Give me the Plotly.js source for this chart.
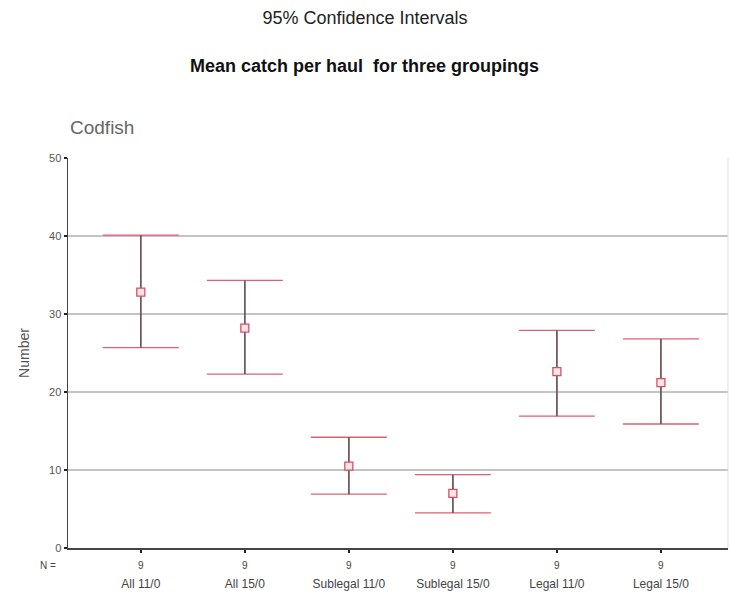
<!DOCTYPE html>
<html>
<head>
<meta charset="utf-8">
<script src="https://cdn.plot.ly/plotly-3.0.1.min.js"></script>
<style>html,body{margin:0;padding:0;background:#fff;}#chart{width:730px;height:596px;}</style>
</head>
<body>
<div id="chart"></div>
<script>
// Data
const categories = ["All 11/0", "All 15/0", "Sublegal 11/0", "Sublegal 15/0", "Legal 11/0", "Legal 15/0"];
const means = [32.8, 28.2, 10.5, 7.0, 22.6, 21.2];
const upper = [40.1, 34.3, 14.2, 9.4, 27.9, 26.8];
const lower = [25.7, 22.3, 6.9, 4.5, 16.9, 15.9];
const counts = ["9", "9", "9", "9", "9", "9"];
const yTicks = [0, 10, 20, 30, 40, 50];

const FONT = 'Liberation Sans, Arial, sans-serif';
const xIdx = categories.map((c, i) => i);
const errPlus = upper.map((u, i) => u - means[i]);
const errMinus = lower.map((l, i) => means[i] - l);

const capTrace = {
  x: xIdx, y: means, type: 'scatter', mode: 'markers',
  marker: {size: 0.1, color: 'rgba(0,0,0,0)'},
  error_y: {type: 'data', symmetric: false, array: errPlus, arrayminus: errMinus,
            color: '#e0606f', thickness: 1.3, width: 38},
  hoverinfo: 'skip', showlegend: false
};
const stemTrace = {
  x: xIdx, y: means, type: 'scatter', mode: 'markers',
  marker: {size: 0.1, color: 'rgba(0,0,0,0)'},
  error_y: {type: 'data', symmetric: false, array: errPlus, arrayminus: errMinus,
            color: '#5a5a5a', thickness: 1.5, width: 0},
  hoverinfo: 'skip', showlegend: false
};
const meanTrace = {
  x: xIdx, y: means, type: 'scatter', mode: 'markers',
  marker: {symbol: 'square', size: 8, color: '#fbe3e6', line: {color: '#d4506a', width: 1.3}},
  hoverinfo: 'skip', showlegend: false
};

const annotations = [
  {text: '<b>Mean catch per haul  for three groupings</b>', xref: 'paper', yref: 'paper',
   x: (364 - 68) / 660, y: (548 - 66) / 390, xanchor: 'center', yanchor: 'middle', showarrow: false,
   font: {family: FONT, size: 18, color: '#111'}},
  {text: 'Codfish', xref: 'paper', yref: 'paper', x: 0.0, y: (548 - 127) / 390,
   xanchor: 'left', yanchor: 'middle', showarrow: false,
   font: {family: FONT, size: 19, color: '#666'}},
  {text: 'N =', xref: 'paper', yref: 'paper', x: (48 - 68) / 660, y: (548 - 565) / 390,
   xanchor: 'center', yanchor: 'middle', showarrow: false,
   font: {family: FONT, size: 10, color: '#444'}}
];
counts.forEach((n, i) => {
  annotations.push({text: n, xref: 'x', yref: 'paper', x: i, y: (548 - 565) / 390,
    xanchor: 'center', yanchor: 'middle', showarrow: false,
    font: {family: FONT, size: 10, color: '#444'}});
});

const layout = {
  width: 730, height: 596,
  margin: {l: 68, r: 2, t: 158, b: 48, pad: 0},
  paper_bgcolor: '#ffffff', plot_bgcolor: '#ffffff',
  title: {text: '95% Confidence Intervals', x: (365 - 68) / 660, xref: 'paper', xanchor: 'center',
          y: 1 - 18 / 596, yref: 'container', yanchor: 'middle',
          font: {family: FONT, size: 18, color: '#222'}},
  xaxis: {
    range: [-0.7, 5.645], tickmode: 'array', tickvals: xIdx, ticktext: categories,
    ticks: 'outside', ticklen: 3, tickwidth: 2, tickcolor: '#222',
    tickfont: {family: FONT, size: 12, color: '#444'},
    ticklabelstandoff: 21,
    showgrid: false, zeroline: false,
    showline: true, linecolor: '#444', linewidth: 1.5, mirror: false, fixedrange: true
  },
  yaxis: {
    range: [0, 50], tickmode: 'array', tickvals: yTicks, ticktext: yTicks.map(String),
    ticks: 'outside', ticklen: 3, tickwidth: 2, tickcolor: '#222',
    tickfont: {family: FONT, size: 11, color: '#555'},
    showgrid: true, gridcolor: '#c4c4c4', gridwidth: 1.6, zeroline: false,
    showline: true, linecolor: '#444', linewidth: 1.5,
    title: {text: 'Number', standoff: 16,
            font: {family: FONT, size: 14, color: '#555'}},
    fixedrange: true
  },
  shapes: [{type: 'line', xref: 'paper', yref: 'paper', x0: 1, x1: 1, y0: 0, y1: 1,
            line: {color: '#dddddd', width: 1}}],
  annotations: annotations,
  showlegend: false
};

Plotly.newPlot('chart', [capTrace, stemTrace, meanTrace], layout, {displayModeBar: false, staticPlot: true});
</script>
</body>
</html>
